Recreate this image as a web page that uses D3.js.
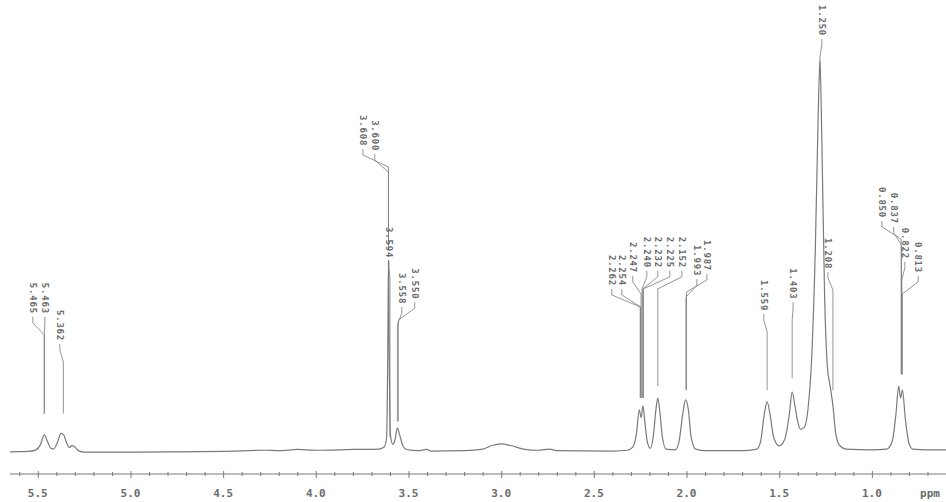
<!DOCTYPE html>
<html>
<head>
<meta charset="utf-8">
<script src="https://cdn.jsdelivr.net/npm/d3@7"></script>
<style>
  body { margin: 0; background: #fff; }
  #chart { width: 946px; height: 502px; }
  text { font-family: "DejaVu Sans Mono", "Liberation Mono", monospace; fill: #6a6a6a; }
</style>
</head>
<body>
<div id="chart"></div>
<script>
// spectrum trace: [ppm, intensity], tallest peak = 100
const trace = [
  [5.65, 0.3], [5.55, 0.4], [5.51, 0.8], [5.485, 2.2], [5.465, 4.6], [5.45, 3.2], [5.43, 1.2],
  [5.415, 1.0], [5.395, 2.6], [5.375, 5.0], [5.36, 4.6], [5.345, 2.6], [5.33, 1.4], [5.315, 1.9],
  [5.30, 1.5], [5.28, 0.6], [5.25, 0.2], [5.0, 0.2], [4.75, 0.3], [4.5, 0.4], [4.27, 0.7],
  [4.2, 0.6], [4.1, 0.9], [4.0, 0.7], [3.8, 0.9], [3.66, 1.0], [3.63, 1.6], [3.618, 4],
  [3.611, 30], [3.608, 49], [3.605, 30], [3.598, 5], [3.585, 2.2], [3.572, 3.5], [3.56, 6.4],
  [3.547, 4.5], [3.53, 1.8], [3.51, 0.9], [3.45, 0.6], [3.40, 0.9], [3.38, 0.5], [3.2, 0.6],
  [3.1, 1.0], [3.05, 1.9], [3.0, 2.3], [2.95, 1.9], [2.88, 1.0], [2.8, 0.7], [2.74, 1.0],
  [2.7, 0.6], [2.4, 0.5], [2.32, 0.7], [2.29, 1.5], [2.27, 5], [2.255, 11], [2.245, 9],
  [2.235, 12], [2.225, 8], [2.21, 2.5], [2.195, 1.2], [2.18, 4], [2.165, 11], [2.155, 14],
  [2.145, 11], [2.13, 4], [2.11, 1.0], [2.06, 0.8], [2.04, 3], [2.02, 10], [2.005, 13.5],
  [1.99, 11], [1.975, 4], [1.95, 1], [1.9, 0.6], [1.7, 0.6], [1.62, 1], [1.6, 3], [1.58, 10],
  [1.565, 13], [1.55, 10], [1.53, 4], [1.5, 1.8], [1.47, 3.5], [1.445, 10], [1.43, 15.5],
  [1.415, 12], [1.40, 8], [1.385, 6], [1.365, 6.5], [1.345, 11], [1.325, 24], [1.305, 52],
  [1.29, 85], [1.28, 100], [1.27, 80], [1.255, 40], [1.24, 22], [1.225, 17], [1.21, 12],
  [1.195, 5], [1.175, 2], [1.14, 1], [1.0, 0.8], [0.92, 1], [0.89, 3], [0.87, 10], [0.855, 17],
  [0.845, 14], [0.835, 16], [0.82, 9], [0.80, 2.5], [0.78, 1.0], [0.7, 0.8], [0.6, 0.8]
];

// peak picks printed above the trace
const peakLabels = ["5.465", "5.463", "5.362",
  "3.608", "3.600", "3.594", "3.558", "3.550",
  "2.262", "2.254", "2.247", "2.240", "2.232", "2.225", "2.152", "1.993", "1.987",
  "1.559", "1.403", "1.250", "1.208",
  "0.850", "0.837", "0.822", "0.813"];

const axisTicks = [5.5, 5.0, 4.5, 4.0, 3.5, 3.0, 2.5, 2.0, 1.5, 1.0];

// label layout: column position (ppm), top of text and end of leader (intensity units)
const labelAt = [5.527, 5.462, 5.381,
  3.746, 3.682, 3.606, 3.536, 3.466,
  2.403, 2.349, 2.290, 2.214, 2.155, 2.090, 2.025, 1.944, 1.890,
  1.583, 1.425, 1.270, 1.237,
  0.946, 0.882, 0.822, 0.750];
const labelTop = [43.3, 43.3, 36.4,
  86, 84.7, 57.5, 45.8, 47,
  50.4, 50.4, 53.7, 55, 55, 55, 55, 52.9, 54.2,
  44, 47, 114, 54.7,
  67.7, 66.2, 57.3, 53.7];
const labelEnd = [10, 10, 10,
  52, 52, 4, 8, 8,
  14, 14, 14, 14, 14, 14, 17, 16, 16,
  16, 19, 95, 16,
  20, 20, 20, 20];
// where the leader bends towards its peak (ppm)
const labelTo = [5.465, 5.465, 5.362,
  3.608, 3.608, 3.600, 3.560, 3.555,
  2.250, 2.248, 2.245, 2.240, 2.236, 2.232, 2.155, 2.003, 2.000,
  1.565, 1.430, 1.280, 1.210,
  0.842, 0.840, 0.838, 0.836];

const width = 946, height = 502;
const svg = d3.select("#chart").append("svg")
  .attr("width", width).attr("height", height);

const x = d3.scaleLinear().domain([5.65, 0.6]).range([10, 946]);
const y = d3.scaleLinear().domain([0, 100]).range([453, 60]);

const ink = "#7a7a7a";

// x axis
const axisY = 474;
const axis = d3.axisBottom(x)
  .tickValues(d3.range(56, 5, -1).map(d => d / 10))
  .tickSize(3)
  .tickFormat(d => "");
const gAxis = svg.append("g").attr("transform", `translate(0,${axisY})`).call(axis);
gAxis.select(".domain").attr("stroke", ink).attr("d", `M10,0H946`);
gAxis.selectAll(".tick line").attr("stroke", ink).attr("y1", -2).attr("y2", 2);
gAxis.selectAll(".tick")
  .filter(d => axisTicks.some(t => Math.abs(t - d) < 1e-6))
  .select("line").attr("y1", -3).attr("y2", 4);

svg.append("g").selectAll("text")
  .data(axisTicks)
  .join("text")
  .attr("x", d => x(d))
  .attr("y", 497)
  .attr("text-anchor", "middle")
  .attr("font-size", 11)
  .attr("font-weight", "bold")
  .text(d => d.toFixed(1));
svg.append("text")
  .attr("x", 930).attr("y", 497)
  .attr("text-anchor", "middle")
  .attr("font-size", 11).attr("font-weight", "bold")
  .text("ppm");

// spectrum
const line = d3.line()
  .x(d => x(d[0]))
  .y(d => y(d[1]))
  .curve(d3.curveMonotoneX);
svg.append("path")
  .datum(trace.slice().sort((a, b) => b[0] - a[0]))
  .attr("d", line)
  .attr("fill", "none")
  .attr("stroke", ink)
  .attr("stroke-width", 1.2);

// peak labels with leaders
const textLen = 32;
const gLab = svg.append("g");
peakLabels.forEach((lab, i) => {
  const lx = x(labelAt[i]);
  const ty = y(labelTop[i]);
  const px = x(labelTo[i]);
  const by = ty + textLen + 2;
  gLab.append("text")
    .attr("transform", `translate(${lx - 3},${ty}) rotate(90)`)
    .attr("font-size", 9)
    .attr("font-weight", "bold")
    .attr("letter-spacing", 0.8)
    .text(lab);
  gLab.append("path")
    .attr("d", `M${lx},${by}V${by + 6}L${px},${by + 18}V${y(labelEnd[i])}`)
    .attr("fill", "none")
    .attr("stroke", ink)
    .attr("stroke-width", 0.8);
});
</script>
</body>
</html>
